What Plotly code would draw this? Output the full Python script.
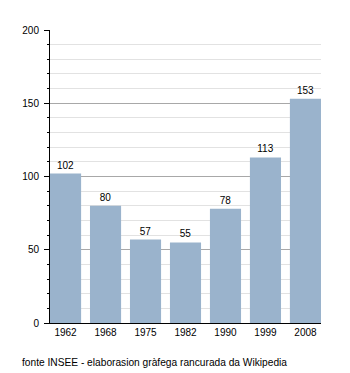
import plotly.graph_objects as go

years = ["1962", "1968", "1975", "1982", "1990", "1999", "2008"]
population = [102, 80, 57, 55, 78, 113, 153]
source_note = "fonte INSEE - elaborasion gràfega rancurada da Wikipedia"

bar_color = "#9ab3cc"
font_family = "Liberation Sans, Arial, sans-serif"

fig = go.Figure(
    go.Bar(
        x=years,
        y=population,
        marker=dict(color=bar_color, line=dict(width=0)),
        text=[str(v) for v in population],
        textposition="outside",
        textfont=dict(size=10, color="#000000", family=font_family),
        cliponaxis=False,
    )
)

g = 0.222
fig.update_layout(
    width=350,
    height=373,
    margin=dict(l=50, r=29, t=30, b=50),
    paper_bgcolor="white",
    plot_bgcolor="white",
    bargap=g,
    showlegend=False,
    font=dict(family=font_family, size=10, color="#000000"),
    xaxis=dict(
        type="category",
        range=[-(1 - g) / 2, 6 + (1 - g) / 2],
        showline=True,
        linecolor="#000000",
        linewidth=1,
        ticks="",
        showgrid=False,
        tickfont=dict(size=10),
    ),
    yaxis=dict(
        range=[0, 200],
        dtick=50,
        showline=True,
        linecolor="#000000",
        linewidth=1,
        ticks="outside",
        ticklen=5,
        tickcolor="#000000",
        ticklabelstandoff=3,
        showgrid=True,
        gridcolor="#a8a8a8",
        gridwidth=1,
        zeroline=False,
        tickfont=dict(size=10),
        minor=dict(
            dtick=10,
            ticks="outside",
            ticklen=2,
            tickcolor="#000000",
            showgrid=True,
            gridcolor="#e2e2e2",
            gridwidth=1,
        ),
    ),
    annotations=[
        dict(
            text=source_note,
            xref="paper",
            yref="paper",
            x=0,
            y=0,
            xanchor="left",
            yanchor="middle",
            xshift=-30,
            yshift=-39,
            showarrow=False,
            font=dict(size=10.2, color="#000000", family=font_family),
        )
    ],
)

fig.write_html("out.html")
